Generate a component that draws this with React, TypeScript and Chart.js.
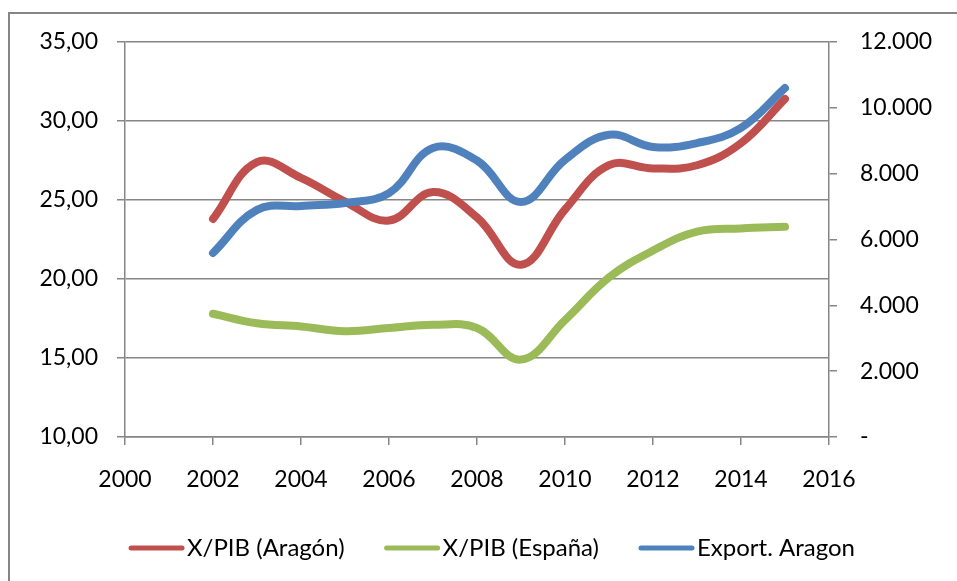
import React, { useEffect, useRef } from "react";
import { Chart, registerables } from "chart.js";

Chart.register(...registerables);

const years = [2002, 2003, 2004, 2005, 2006, 2007, 2008, 2009, 2010, 2011, 2012, 2013, 2014, 2015];
const xpibAragon = [23.8, 27.4, 26.4, 24.9, 23.7, 25.5, 23.9, 20.9, 24.4, 27.2, 27.0, 27.2, 28.6, 31.4];
const xpibEspana = [17.8, 17.2, 17.0, 16.7, 16.9, 17.1, 16.9, 14.9, 17.4, 20.1, 21.8, 23.0, 23.2, 23.3];
const exportAragon = [5590, 6900, 7020, 7110, 7410, 8780, 8400, 7140, 8420, 9180, 8810, 8930, 9390, 10600];

const seriesLabels = ["X/PIB (Aragón)", "X/PIB (España)", "Export. Aragon"];
const seriesColors = ["#C0504D", "#9BBB59", "#4F81BD"];

const FONT = "Lato, 'Open Sans', sans-serif";
const GRID = "#868686";

const toPoints = (vals: number[]) => vals.map((v, i) => ({ x: years[i], y: v }));

const fmtLeft = (v: number) => v.toFixed(2).replace(".", ",");
const fmtRight = (v: number) =>
  v === 0 ? "-" : Math.round(v).toString().replace(/\B(?=(\d{3})+(?!\d))/g, ".");

export default function App() {
  const ref = useRef<HTMLCanvasElement | null>(null);

  useEffect(() => {
    if (!ref.current) return;

    const frame = {
      id: "frame",
      beforeDraw(chart: any) {
        const ctx = chart.ctx;
        ctx.save();
        ctx.strokeStyle = GRID;
        ctx.lineWidth = 2;
        ctx.strokeRect(9, 13, 2000, 2000);
        ctx.restore();
      },
    };

    const legend = {
      id: "customLegend",
      afterDraw(chart: any) {
        const ctx = chart.ctx;
        ctx.save();
        ctx.font = `24px ${FONT}`;
        const sample = 55;
        const gap = 3;
        const itemGap = 40;
        const ds = chart.data.datasets;
        const widths = ds.map((d: any) => sample + gap + ctx.measureText(d.label).width);
        const total = widths.reduce((a: number, b: number) => a + b, 0) + itemGap * (ds.length - 1);
        let x = 492 - total / 2;
        const y = 548;
        ds.forEach((d: any, i: number) => {
          ctx.strokeStyle = d.borderColor;
          ctx.lineWidth = 5;
          ctx.lineCap = "round";
          ctx.beginPath();
          ctx.moveTo(x + 2, y);
          ctx.lineTo(x + sample - 2, y);
          ctx.stroke();
          ctx.fillStyle = "#000";
          ctx.textBaseline = "middle";
          ctx.textAlign = "left";
          ctx.fillText(d.label, x + sample + gap, y);
          x += widths[i] + itemGap;
        });
        ctx.restore();
      },
    };

    const mk = (i: number, vals: number[], axis: string, order: number) => ({
      label: seriesLabels[i],
      data: toPoints(vals),
      borderColor: seriesColors[i],
      backgroundColor: seriesColors[i],
      borderWidth: 8,
      borderCapStyle: "round" as const,
      borderJoinStyle: "round" as const,
      pointRadius: 0,
      tension: 0.4,
      yAxisID: axis,
      order,
    });

    const chart = new Chart(ref.current, {
      type: "line",
      data: {
        datasets: [
          mk(0, xpibAragon, "y", 2),
          mk(1, xpibEspana, "y", 1),
          mk(2, exportAragon, "y1", 0),
        ],
      },
      options: {
        animation: false,
        responsive: false,
        layout: { padding: { top: 42, bottom: 84, left: 0, right: 0 } },
        plugins: { legend: { display: false }, tooltip: { enabled: false } },
        scales: {
          x: {
            type: "linear",
            min: 2000,
            max: 2016,
            ticks: {
              stepSize: 2,
              color: "#000",
              font: { family: FONT, size: 23 },
              padding: 21,
              maxRotation: 0,
              callback: (v: any) => String(v),
            },
            grid: { drawOnChartArea: false, drawTicks: true, tickLength: 8, color: GRID, lineWidth: 1.5 },
            border: { display: true, color: GRID, width: 1.5 },
            afterFit: (s: any) => {
              s.height = 60;
            },
          },
          y: {
            position: "left",
            min: 10,
            max: 35,
            ticks: {
              stepSize: 5,
              color: "#000",
              font: { family: FONT, size: 23 },
              padding: 19,
              callback: (v: any) => fmtLeft(Number(v)),
            },
            grid: { color: GRID, lineWidth: 1.5, drawTicks: true, tickLength: 8 },
            border: { display: true, color: GRID, width: 1.5 },
            afterFit: (s: any) => {
              s.width = 125;
            },
          },
          y1: {
            position: "right",
            min: 0,
            max: 12000,
            ticks: {
              stepSize: 2000,
              color: "#000",
              font: { family: FONT, size: 23 },
              padding: 23,
              callback: (v: any) => fmtRight(Number(v)),
            },
            grid: { drawOnChartArea: false, drawTicks: true, tickLength: 8, color: GRID, lineWidth: 1.5 },
            border: { display: true, color: GRID, width: 1.5 },
            afterFit: (s: any) => {
              s.width = 128;
            },
          },
        },
      },
      plugins: [frame, legend],
    });

    return () => chart.destroy();
  }, []);

  return (
    <canvas
      ref={ref}
      width={957}
      height={581}
      style={{ position: "absolute", left: 0, top: 0, width: 957, height: 581, background: "#fff" }}
    />
  );
}
